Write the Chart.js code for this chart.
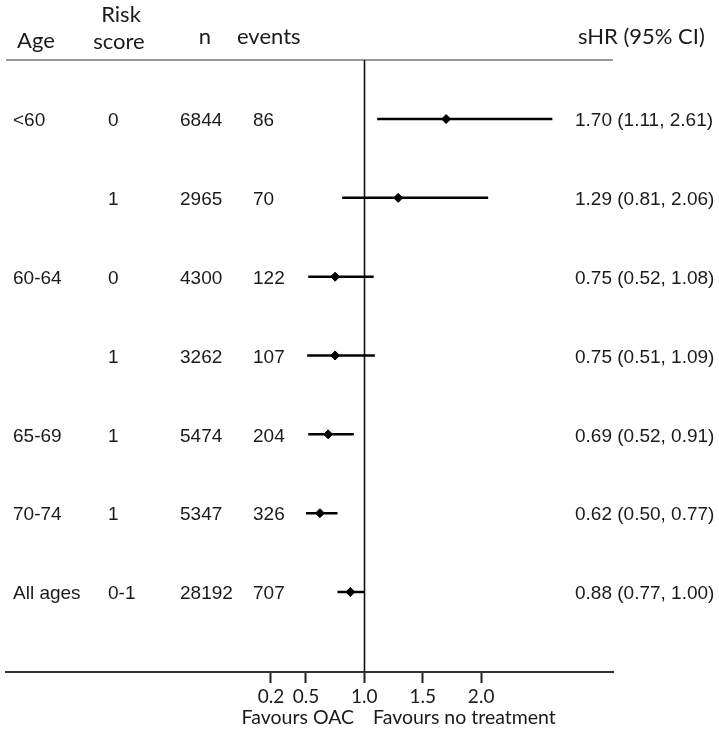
<!DOCTYPE html>
<html>
<head>
<meta charset="utf-8">
<script src="https://cdn.jsdelivr.net/npm/chart.js@4/dist/chart.umd.min.js"></script>
<style>
html,body{margin:0;padding:0;background:#fff;}
#wrap{width:719px;height:735px;position:relative;}
</style>
</head>
<body>
<div id="wrap"><canvas id="c" width="719" height="735"></canvas></div>
<script>
const ageGroups = ["<60", "", "60-64", "", "65-69", "70-74", "All ages"];
const riskScores = ["0", "1", "0", "1", "1", "1", "0-1"];
const nValues = ["6844", "2965", "4300", "3262", "5474", "5347", "28192"];
const eventValues = ["86", "70", "122", "107", "204", "326", "707"];
const hr = [1.70, 1.29, 0.75, 0.75, 0.69, 0.62, 0.88];
const ciLow = [1.11, 0.81, 0.52, 0.51, 0.52, 0.50, 0.77];
const ciHigh = [2.61, 2.06, 1.08, 1.09, 0.91, 0.77, 1.00];
const tickValues = [0.2, 0.5, 1.0, 1.5, 2.0];
const refValue = 1.0;
const favourLabels = ["Favours OAC", "Favours no treatment"];

const headFont = "Lato, 'Open Sans', sans-serif";
const bodyFont = "'Liberation Sans', Arial, sans-serif";
const textColor = "#1a1a1a";

const ciDatasets = hr.map((v, i) => ({
  label: "ci" + i,
  data: [{x: ciLow[i], y: i}, {x: ciHigh[i], y: i}],
  showLine: true,
  borderColor: "#000",
  borderWidth: 2.5,
  pointRadius: 0,
  order: 2
}));

const pointDataset = {
  label: "sHR",
  data: hr.map((v, i) => ({x: v, y: i})),
  pointStyle: "rectRot",
  pointRadius: 4.5,
  pointBackgroundColor: "#000",
  pointBorderColor: "#000",
  pointBorderWidth: 1,
  showLine: false,
  order: 1
};

const textPlugin = {
  id: "forestText",
  beforeDatasetsDraw(chart) {
    const ctx = chart.ctx;
    const a = chart.chartArea;
    const xs = chart.scales.x;
    ctx.save();
    ctx.strokeStyle = "#9a9a9a";
    ctx.lineWidth = 2;
    ctx.beginPath();
    ctx.moveTo(a.left, a.top);
    ctx.lineTo(a.right, a.top);
    ctx.stroke();
    const rx = Math.round(xs.getPixelForValue(refValue)) + 0.5;
    ctx.strokeStyle = "#111";
    ctx.lineWidth = 1.6;
    ctx.beginPath();
    ctx.moveTo(rx, a.top);
    ctx.lineTo(rx, a.bottom);
    ctx.stroke();
    ctx.restore();
  },
  afterDraw(chart) {
    const ctx = chart.ctx;
    const ys = chart.scales.y;
    ctx.save();
    ctx.fillStyle = textColor;
    ctx.textBaseline = "alphabetic";
    ctx.font = "22px " + headFont;
    ctx.textAlign = "left";
    ctx.fillText("Age", 17, 48);
    ctx.textAlign = "center";
    ctx.fillText("Risk", 121, 22);
    ctx.fillText("score", 119, 49);
    ctx.fillText("n", 205, 44);
    ctx.textAlign = "left";
    ctx.fillText("events", 237, 44);
    ctx.fillText("sHR (95% CI)", 578, 44);
    ctx.font = "19px " + bodyFont;
    ctx.textBaseline = "middle";
    ctx.textAlign = "left";
    hr.forEach((v, i) => {
      const y = ys.getPixelForValue(i) + 2;
      ctx.fillText(ageGroups[i], 13, y);
      ctx.fillText(riskScores[i], 108, y);
      ctx.fillText(nValues[i], 180, y);
      ctx.fillText(eventValues[i], 253, y);
      ctx.fillText(v.toFixed(2) + " (" + ciLow[i].toFixed(2) + ", " + ciHigh[i].toFixed(2) + ")", 575, y);
    });
    ctx.font = "19.5px " + headFont;
    ctx.textBaseline = "alphabetic";
    ctx.textAlign = "right";
    ctx.fillText(favourLabels[0], 354, 724);
    ctx.textAlign = "left";
    ctx.fillText(favourLabels[1], 373, 724);
    ctx.restore();
  }
};

new Chart(document.getElementById("c"), {
  type: "scatter",
  data: { datasets: [...ciDatasets, pointDataset] },
  options: {
    responsive: false,
    animation: false,
    events: [],
    layout: { padding: { left: 6, right: 106, top: 60, bottom: 0 } },
    plugins: { legend: { display: false }, tooltip: { enabled: false } },
    scales: {
      x: {
        type: "linear",
        min: -2.068,
        max: 3.129,
        afterBuildTicks: s => { s.ticks = tickValues.map(v => ({ value: v })); },
        afterFit: s => { s.height = 63; },
        ticks: {
          callback: v => Number(v).toFixed(1),
          font: { family: headFont, size: 19 },
          color: textColor,
          padding: 2,
          autoSkip: false,
          maxRotation: 0
        },
        grid: { drawOnChartArea: false, drawTicks: true, tickLength: 11, tickColor: "#222", tickWidth: 2 },
        border: { display: true, color: "#333", width: 2 }
      },
      y: {
        type: "linear",
        reverse: true,
        min: -0.749,
        max: 7.015,
        display: false
      }
    }
  },
  plugins: [textPlugin]
});
</script>
</body>
</html>
